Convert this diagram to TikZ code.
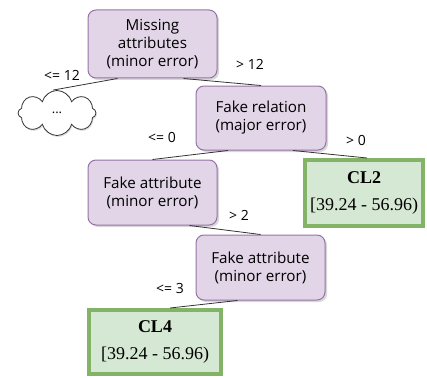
\documentclass[tikz,border=0pt]{standalone}
\usepackage{fontspec}
\setmainfont{Liberation Serif}
\newfontfamily\nodesans{Open Sans}
\usetikzlibrary{shapes.symbols,shadows,calc}
\definecolor{pfill}{HTML}{E1D5E7}
\definecolor{pdraw}{HTML}{9673A6}
\definecolor{gfill}{HTML}{D5E8D4}
\definecolor{gdraw}{HTML}{82B366}
\begin{document}
\begin{tikzpicture}[x=1pt,y=-1pt,
  decision/.style={draw=pdraw, fill=pfill, rounded corners=8pt, line width=1pt,
    minimum width=129pt, align=center, inner sep=0pt,
    font=\nodesans\fontsize{15.2}{18}\selectfont,
    drop shadow={shadow xshift=2pt,shadow yshift=-2pt,fill=black!30}},
  leaf/.style={draw=gdraw, fill=gfill, line width=4pt, align=center, inner sep=0pt,
    font=\fontsize{18}{27}\selectfont,
    drop shadow={shadow xshift=-1pt,shadow yshift=-2pt,fill=black!30}},
  edge/.style={draw=black!80, line width=0.8pt},
  lab/.style={font=\nodesans\fontsize{14}{16}\selectfont, inner sep=0pt}]
\useasboundingbox (0,0) rectangle (427,377);

\node[decision, minimum height=68pt] (n1) at (152.5,44) {Missing\\attributes\\(minor error)};
\node[decision, minimum width=130pt, minimum height=64pt] (n2) at (261,118) {Fake relation\\(major error)};
\node[decision, minimum height=65pt] (n3) at (152.5,192.5) {Fake attribute\\(minor error)};
\node[decision, minimum height=65pt] (n4) at (260.5,267.5) {Fake attribute\\(minor error)};
\node[leaf, minimum width=118pt, minimum height=66pt] (cl2) at (364,193) {\textbf{CL2}\\{[}39.24 - 56.96)};
\node[leaf, minimum width=132pt, minimum height=64pt] (cl4) at (155,342) {\textbf{CL4}\\{[}39.24 - 56.96)};
\node[cloud, draw=black!80, fill=white, cloud puffs=8, aspect=1.7, line width=0.8pt,
  minimum width=78pt, minimum height=45pt, inner sep=0pt,
  drop shadow={shadow xshift=1pt,shadow yshift=-1.5pt,fill=black!25},
  font=\nodesans\fontsize{13}{15}\selectfont] (c) at (57,113) {...};

\draw[edge] ([xshift=-35pt]n1.south) -- ([xshift=-4pt]c.north);
\draw[edge] ([xshift=31pt]n1.south) -- (n2.north);
\draw[edge] ([xshift=-33pt]n2.south) -- (n3.north);
\draw[edge] ([xshift=32pt]n2.south) -- ([xshift=3pt]cl2.north);
\draw[edge] ([xshift=37pt]n3.south) -- (n4.north);
\draw[edge] ([xshift=-23pt]n4.south) -- ([xshift=15pt]cl4.north);

\node[lab] (l1) at (62,75) {<= 12};
\node[lab] (l2) at (250,64) {> 12};
\node[lab] (l3) at (162,137) {<= 0};
\node[lab] (l4) at (356,140) {> 0};
\node[lab] (l5) at (239,215) {> 2};
\node[lab] (l6) at (170,288) {<= 3};
\end{tikzpicture}
\end{document}
